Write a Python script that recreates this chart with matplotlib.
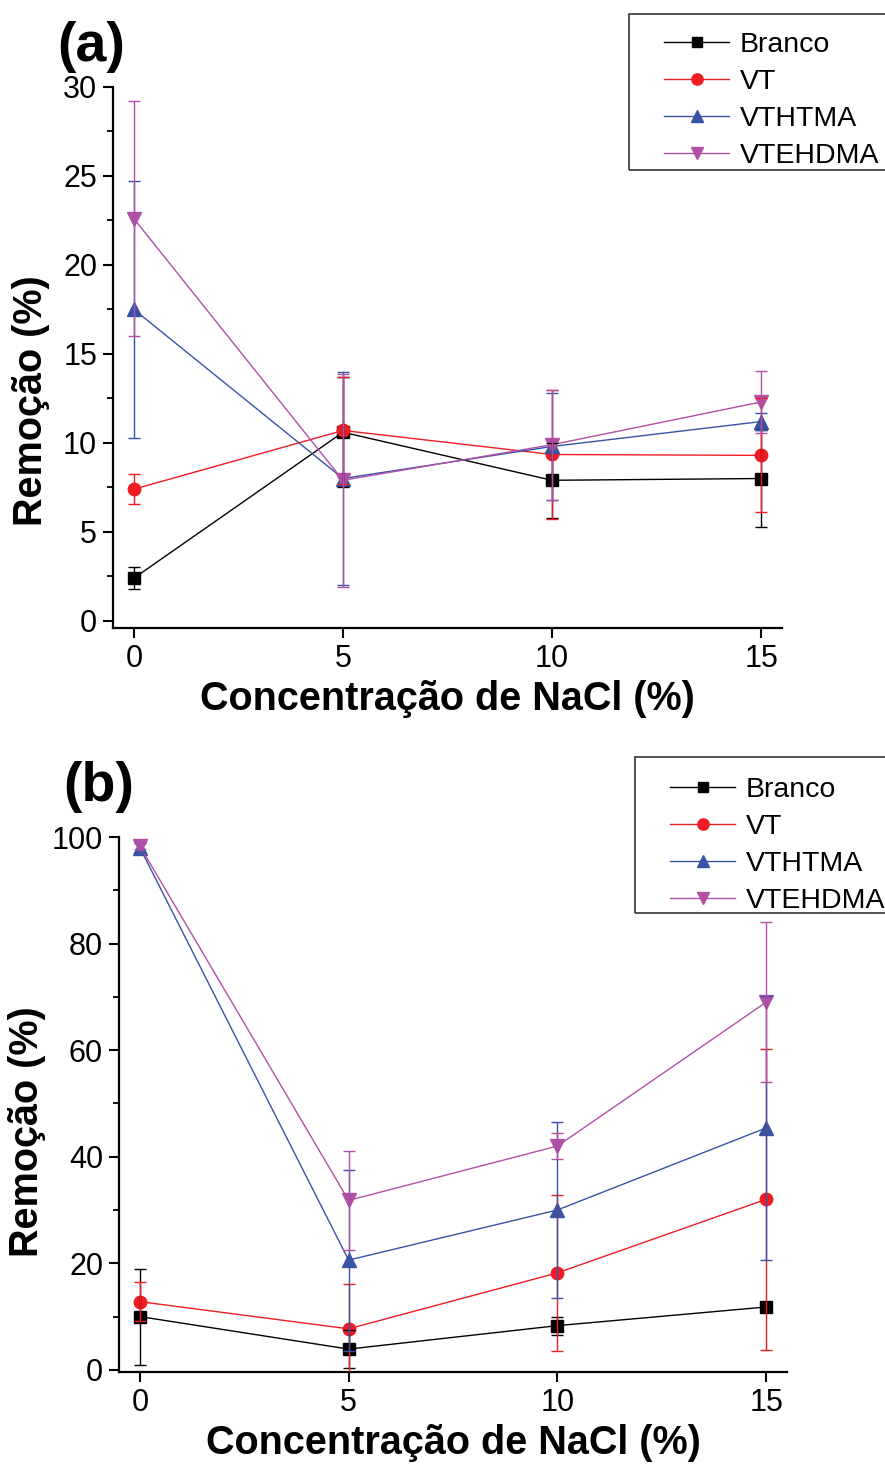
import matplotlib
matplotlib.use('Agg')
import matplotlib.pyplot as plt
from matplotlib.patches import Rectangle
from matplotlib.ticker import MultipleLocator

plt.rcParams['font.family'] = ['Liberation Sans', 'DejaVu Sans']

conc = [0, 5, 10, 15]
labels = ['Branco', 'VT', 'VTHTMA', 'VTEHDMA']

# (a)
branco_a = [2.4, 10.6, 7.9, 8.0]
branco_a_err = [0.6, 3.1, 2.1, 2.7]
vt_a = [7.4, 10.7, 9.35, 9.3]
vt_a_err = [0.85, 3.0, 3.6, 3.2]
vthtma_a = [17.5, 8.0, 9.8, 11.2]
vthtma_a_err = [7.2, 6.0, 3.0, 0.5]
vtehdma_a = [22.6, 7.9, 9.9, 12.3]
vtehdma_a_err = [6.6, 6.0, 3.1, 1.75]

# (b)
branco_b = [10.0, 3.9, 8.3, 11.8]
branco_b_err = [9.0, 3.5, 1.7, 1.0]
vt_b = [12.8, 7.7, 18.2, 32.0]
vt_b_err = [3.6, 8.4, 14.7, 28.3]
vthtma_b = [98.0, 20.6, 30.0, 45.4]
vthtma_b_err = [0.8, 17.0, 16.6, 24.8]
vtehdma_b = [98.3, 31.8, 42.0, 69.0]
vtehdma_b_err = [0.5, 9.3, 2.4, 15.0]

colors = ['black', '#ee1d23', '#3953a4', '#b250a6']
markers = ['s', 'o', '^', 'v']
msizes = [8, 9, 9.5, 9.5]

W, H = 885, 1464
fig = plt.figure(figsize=(W / 100, H / 100), dpi=100)


def px_axes(left, top, right, bottom):
    return fig.add_axes([left / W, 1 - bottom / H, (right - left) / W, (bottom - top) / H])


def draw_panel(ax, series, errs, ymax, ymajor, yminor, tag, tag_xy, box, leg_xy):
    for y, e, c, m, ms, lab in zip(series, errs, colors, markers, msizes, labels):
        ax.plot(conc, y, color=c, marker=m, markersize=ms, lw=1.0, label=lab, zorder=2)
        ax.errorbar(conc, y, yerr=e, fmt='none', ecolor=c, elinewidth=1.0,
                    capsize=4, capthick=1.0, zorder=3)
    ax.set_xlim(-0.5, 15.5)
    ax.set_ylim(-0.4, ymax)
    ax.set_xticks(conc)
    ax.yaxis.set_major_locator(MultipleLocator(ymajor))
    ax.yaxis.set_minor_locator(MultipleLocator(yminor))
    for s in ['top', 'right']:
        ax.spines[s].set_visible(False)
    for s in ['left', 'bottom']:
        ax.spines[s].set_linewidth(1.6)
    ax.tick_params(which='major', direction='out', length=7.5, width=1.5,
                   labelsize=22, pad=4)
    ax.tick_params(which='minor', direction='out', length=4, width=1.3)
    ax.set_xlabel('Concentração de NaCl (%)', fontsize=28.5, fontweight='bold', labelpad=4)
    ax.set_ylabel('Remoção (%)', fontsize=28.5, fontweight='bold')
    fig.text(tag_xy[0] / W, 1 - tag_xy[1] / H, tag, fontsize=40, fontweight='bold',
             ha='left', va='top')

    # legend frame reaches the right edge of the figure
    x0, y0, x1, y1 = box
    fig.patches.append(Rectangle((x0 / W, 1 - y1 / H), (x1 - x0) / W, (y1 - y0) / H,
                                 transform=fig.transFigure, fill=False,
                                 edgecolor='#333333', lw=1.2))
    ax.legend(loc='upper left', bbox_to_anchor=(leg_xy[0] / W, 1 - leg_xy[1] / H),
              bbox_transform=fig.transFigure, borderaxespad=0, borderpad=0,
              fontsize=20.5, handlelength=2.3, handletextpad=0.35, labelspacing=0.39,
              frameon=False, markerscale=0.9)


ax_a = px_axes(113, 87, 782, 628)
draw_panel(ax_a, [branco_a, vt_a, vthtma_a, vtehdma_a],
           [branco_a_err, vt_a_err, vthtma_a_err, vtehdma_a_err],
           30, 5, 2.5, '(a)', (57, 21), (629, 14, 890, 170), (664, 32))
ax_a.yaxis.set_label_coords(-0.094, 0.42)

ax_b = px_axes(119, 837, 787, 1372)
draw_panel(ax_b, [branco_b, vt_b, vthtma_b, vtehdma_b],
           [branco_b_err, vt_b_err, vthtma_b_err, vtehdma_b_err],
           100, 20, 10, '(b)', (63, 761), (635, 757, 890, 913), (670, 777))
ax_b.yaxis.set_label_coords(-0.11, 0.45)

fig.savefig('out.png', dpi=100)
